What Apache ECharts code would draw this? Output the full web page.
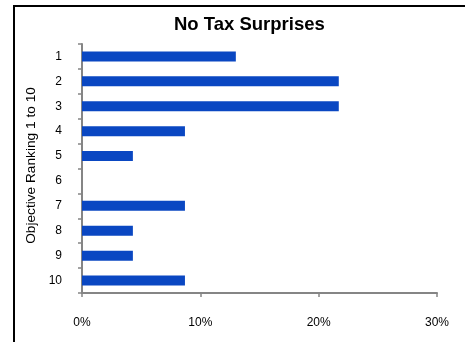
<!DOCTYPE html>
<html>
<head>
<meta charset="utf-8">
<style>
  html, body { margin: 0; padding: 0; background: #fff; }
  #chart { width: 465px; height: 342px; }
</style>
<script src="https://cdn.jsdelivr.net/npm/echarts@6/dist/echarts.min.js"></script>
</head>
<body>
<div id="chart"></div>
<script>
// Objective ranking positions and share of responses (%)
const rankings = ['1', '2', '3', '4', '5', '6', '7', '8', '9', '10'];
const shares = [13.0, 21.7, 21.7, 8.7, 4.3, 0, 8.7, 4.3, 4.3, 8.7];
const xTicks = { min: 0, max: 30, interval: 10 };

const chart = echarts.init(document.getElementById('chart'), null, { renderer: 'canvas' });
const font = 'Liberation Sans, Arial, sans-serif';
const axisGrey = '#858585';

chart.setOption({
  animation: false,
  backgroundColor: '#ffffff',
  title: {
    text: 'No Tax Surprises',
    left: 169,
    top: 10,
    textStyle: { fontFamily: font, fontWeight: 'bold', fontSize: 18.5, color: '#000' }
  },
  graphic: [{
    type: 'rect',
    shape: { x: 14, y: 6, width: 470, height: 360 },
    style: { fill: 'none', stroke: '#000', lineWidth: 2 },
    silent: true
  }],
  grid: { left: 82, right: 28, top: 44, bottom: 49, containLabel: false },
  xAxis: {
    type: 'value',
    min: xTicks.min,
    max: xTicks.max,
    interval: xTicks.interval,
    splitLine: { show: false },
    axisLine: { show: true, lineStyle: { color: axisGrey, width: 2 } },
    axisTick: { show: true, length: 4, lineStyle: { color: axisGrey, width: 1.5 } },
    axisLabel: {
      margin: 24,
      formatter: '{value}%',
      fontFamily: font, fontSize: 12, color: '#000'
    }
  },
  yAxis: {
    type: 'category',
    data: rankings,
    inverse: true,
    name: 'Objective Ranking 1 to 10',
    nameLocation: 'middle',
    nameGap: 44,
    nameRotate: 90,
    nameTextStyle: { fontFamily: font, fontSize: 13.7, color: '#000', padding: [0, 0, 0, 6] },
    axisLine: { show: true, lineStyle: { color: axisGrey, width: 2 } },
    axisTick: { show: true, length: 4, lineStyle: { color: axisGrey, width: 1.5 } },
    axisLabel: { margin: 20, fontFamily: font, fontSize: 12, color: '#000' },
    splitLine: { show: false }
  },
  series: [{
    type: 'bar',
    data: shares,
    barWidth: 10,
    itemStyle: { color: '#0a47c2' }
  }]
});
</script>
</body>
</html>
